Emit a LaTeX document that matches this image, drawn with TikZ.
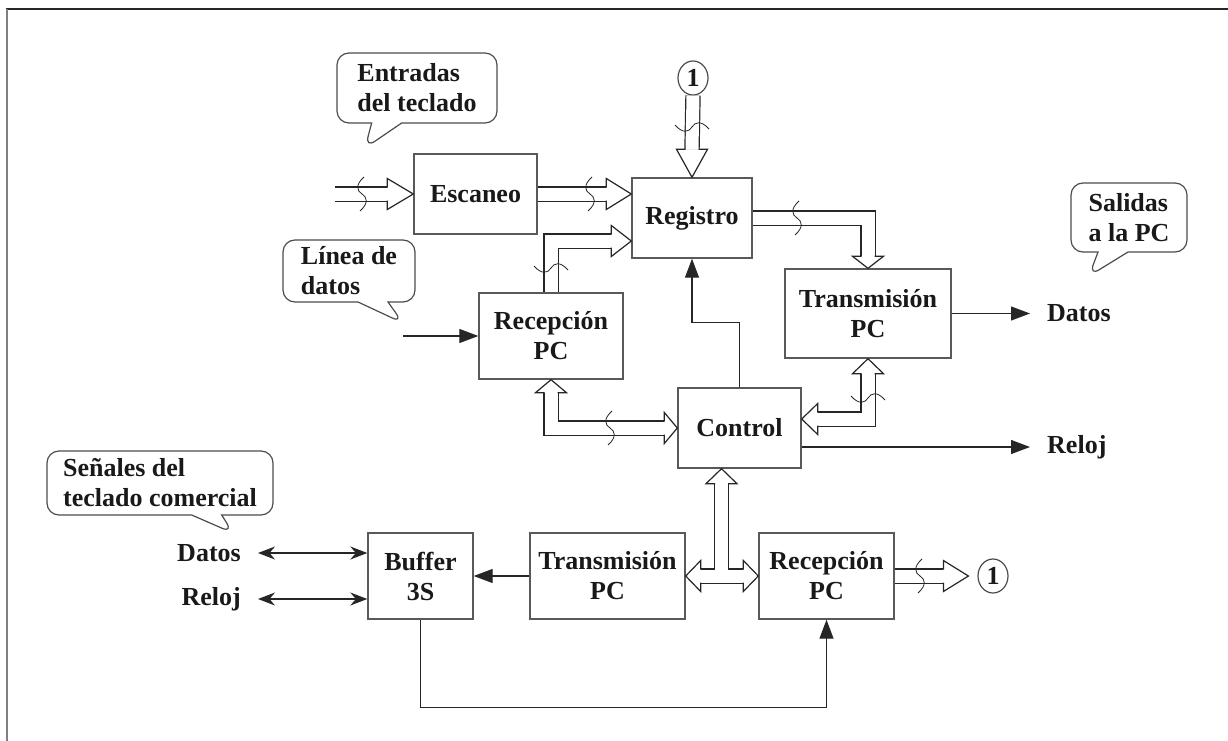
\documentclass[tikz,border=0pt]{standalone}
\usepackage{fontspec}
\setmainfont{Liberation Serif}
\usetikzlibrary{arrows.meta, calc, shapes.geometric, shapes.callouts}

\tikzset{
  blk/.style={draw=black!65, line width=1.4pt, align=center, inner sep=2pt},
  lbl/.style={inner ysep=2pt, inner xsep=17pt},
  note/.style={rectangle callout, draw=black!70, line width=1.2pt, rounded corners=12pt,
    align=left, callout pointer width=30pt},
  one/.style={draw=black!70, ellipse, line width=1.2pt, minimum width=30pt, minimum height=34pt, inner sep=0pt},
  busline/.style={draw=black!85, line width=1.2pt, line join=miter},
  bus/.style={busline, double=white, double distance=13pt},
  sig/.style={draw=black!85, line width=1.2pt, -{Triangle[length=19pt,width=14pt]}},
  dsig/.style={draw=black!85, line width=1.2pt, {Stealth[length=17pt,width=13pt]}-{Stealth[length=17pt,width=13pt]}},
  bushead/.pic={
    \fill[white] (0,-15.5) -- (#1,0) -- (0,15.5) -- cycle;
    \draw[busline] (0,-6.5) -- (0,-15.5) -- (#1,0) -- (0,15.5) -- (0,6.5);
  },
  wig/.pic={
    \draw[draw=black!85, line width=0.8pt] (2,-17) .. controls (-7,-9) and (-5,-3) .. (0,0) .. controls (5,3) and (7,9) .. (-2,17);
  }
}

\begin{document}
\begin{tikzpicture}[x=1pt, y=-1pt, font=\bfseries\fontsize{26}{30}\selectfont, text=black!90]
  \useasboundingbox (0,0) rectangle (1228,741);
  \draw[black!85, line width=2pt] (6,9) -- (1228,9);
  \draw[black!50, line width=2.5pt] (7,9) -- (7,741);

  % bloques
  \node[blk, minimum width=123pt, minimum height=80pt] (esc) at (475.5,194) {Escaneo};
  \node[blk, minimum width=120pt, minimum height=80pt] (reg) at (692,218) {Registro};
  \node[blk, minimum width=144pt, minimum height=86pt] (recA) at (551,336) {Recepción\\PC};
  \node[blk, minimum width=166pt, minimum height=89pt] (txA) at (868,313.5) {Transmisión\\PC};
  \node[blk, minimum width=123pt, minimum height=80pt] (ctl) at (739.5,428) {Control};
  \node[blk, minimum width=105pt, minimum height=86pt] (buf) at (420.5,576) {Buffer\\3S};
  \node[blk, minimum width=155pt, minimum height=86pt] (txB) at (607.5,576) {Transmisión\\PC};
  \node[blk, minimum width=135pt, minimum height=86pt] (recB) at (826.5,576) {Recepción\\PC};

  \node[one] (oneA) at (693,78) {1};
  \node[one] (oneB) at (993,576) {1};

  % notas
  \node[note, minimum width=160pt, minimum height=70pt, callout absolute pointer={(365,148)}] (nEnt) at (417,88) {Entradas\\del teclado};
  \node[note, minimum width=132pt, minimum height=62pt, callout absolute pointer={(403,323)}] (nLin) at (349,271) {Línea de\\datos};
  \node[note, minimum width=116pt, minimum height=69pt, callout absolute pointer={(1089,276)}] (nSal) at (1129,217.5) {Salidas\\a la PC};
  \node[note, minimum width=226pt, minimum height=64pt, callout absolute pointer={(233,533)}] (nSen) at (160,483) {Señales del\\teclado comercial};

  % etiquetas
  \node[lbl, anchor=west] (oDat) at (1030,313.5) {Datos};
  \node[lbl, anchor=west] (oClk) at (1030,447) {Reloj};
  \node[lbl, anchor=east] (kDat) at (258,553) {Datos};
  \node[lbl, anchor=east] (kClk) at (258,599) {Reloj};
  \coordinate (kIn) at (335,194);
  \coordinate (kLin) at (403,336);

  % buses
  \draw[bus] (kIn) -- ($(esc.west)+(-26,0)$);
  \pic at ($(esc.west)+(-26,0)$) {bushead=26};
  \pic at (362,194) {wig};

  \draw[bus] (esc.east) -- ($(reg.west |- esc.east)+(-25,0)$);
  \pic at ($(reg.west |- esc.east)+(-25,0)$) {bushead=25};
  \pic at (590,194) {wig};

  \draw[bus] (recA.north) |- ($(reg.west)+(-20,23)$);
  \pic at ($(reg.west)+(-20,23)$) {bushead=20};
  \pic[rotate=90] at (551,268) {wig};

  \draw[bus] (oneA.south) -- ($(reg.north)+(0,-28)$);
  \pic[rotate=-90] at ($(reg.north)+(0,-28)$) {bushead=28};
  \pic[rotate=90] at (692,127) {wig};

  \draw[bus] (reg.east) -| ($(txA.north)+(0,-12)$);
  \pic[rotate=-90] at ($(txA.north)+(0,-12)$) {bushead=12};
  \pic at (797,218) {wig};

  \draw[bus] ($(ctl.east)+(16,-9)$) -| ($(txA.south)+(0,15)$);
  \pic[rotate=180] at ($(ctl.east)+(16,-9)$) {bushead=16};
  \pic[rotate=90] at ($(txA.south)+(0,15)$) {bushead=15};
  \pic[rotate=90] at (868,398) {wig};

  \draw[bus] ($(recA.south)+(0,13)$) |- ($(ctl.west)+(-13,0)$);
  \pic[rotate=90] at ($(recA.south)+(0,13)$) {bushead=13};
  \pic at ($(ctl.west)+(-13,0)$) {bushead=13};
  \pic at (610,428) {wig};

  \coordinate (tL) at ($(txB.east)+(15,0)$);
  \coordinate (tR) at ($(recB.west)+(-15,0)$);
  \coordinate (tU) at ($(ctl.south)+(-18,15)$);
  \coordinate (tJ) at (tU |- tL);
  \draw[bus] (tL) -- (tR);
  \draw[bus] (tU) -- (tJ);
  \draw[white, line width=13pt] ($(tJ)+(-9.5,0)$) -- ($(tJ)+(9.5,0)$);
  \pic[rotate=180] at (tL) {bushead=15};
  \pic at (tR) {bushead=15};
  \pic[rotate=90] at (tU) {bushead=15};

  \draw[bus] (recB.east) -- ($(oneB.west)+(-34,0)$);
  \pic at ($(oneB.west)+(-34,0)$) {bushead=25};
  \pic at (920,576) {wig};

  % senales
  \draw[sig] (kLin) -- (recA.west);
  \draw[sig] (ctl.north) -- ++(0,-65) -| (reg.south);
  \draw[sig] (txA.east) -- (oDat.west);
  \draw[sig] ($(ctl.east)+(0,19)$) -- (oClk.west |- 0,447);
  \draw[sig] (buf.south) -- ++(0,88) -| (recB.south);
  \draw[sig] (txB.west) -- (buf.east);
  \draw[dsig] (kDat.east) -- (kDat.east -| buf.west);
  \draw[dsig] (kClk.east) -- (kClk.east -| buf.west);
\end{tikzpicture}
\end{document}
